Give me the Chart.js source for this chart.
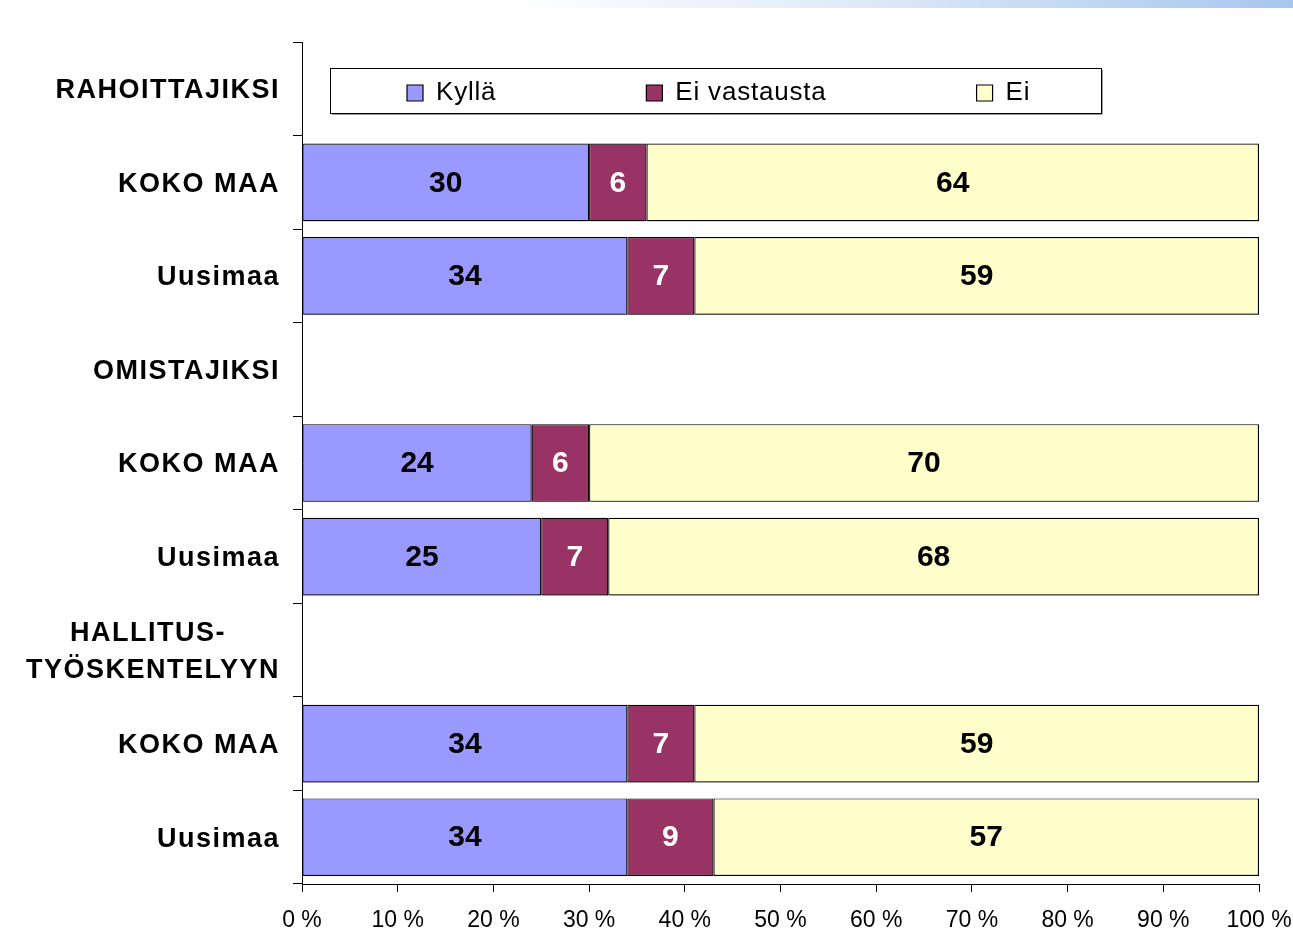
<!DOCTYPE html>
<html>
<head>
<meta charset="utf-8">
<script src="https://cdn.jsdelivr.net/npm/chart.js@4/dist/chart.umd.min.js"></script>
<style>
  html, body { margin: 0; padding: 0; background: #fff; }
  #wrap { position: relative; width: 1293px; height: 933px; }
  #strip { position: absolute; left: 500px; top: 0; width: 793px; height: 8px;
           background: linear-gradient(to right, rgba(255,255,255,1) 0%, #dfeaf8 45%, #a6c6ee 100%); }
  canvas { position: absolute; left: 0; top: 0; }
</style>
</head>
<body>
<div id="wrap">
  <div id="strip"></div>
  <canvas id="c" width="1293" height="933"></canvas>
</div>
<script>
// ---- data ----
const categories = [
  'RAHOITTAJIKSI', 'KOKO MAA', 'Uusimaa',
  'OMISTAJIKSI', 'KOKO MAA', 'Uusimaa',
  ['HALLITUS-\u00A0\u00A0\u00A0\u00A0\u00A0\u00A0', 'TYÖSKENTELYYN'], 'KOKO MAA', 'Uusimaa'
];
const seriesNames = ['Kyllä', 'Ei vastausta', 'Ei'];
const kylla       = [null, 30, 34, null, 24, 25, null, 34, 34];
const eiVastausta = [null, 6, 7, null, 6, 7, null, 7, 9];
const ei          = [null, 64, 59, null, 70, 68, null, 59, 57];
const xTicks = [0, 10, 20, 30, 40, 50, 60, 70, 80, 90, 100];

const FONT = '"Liberation Sans", Arial, sans-serif';

function spaced(obj, name, ls) {
  const orig = obj[name];
  obj[name] = function (...a) {
    const c = this.ctx;
    c.save();
    c.letterSpacing = ls;
    try { return orig.apply(this, a); } finally { c.restore(); }
  };
}

const helperPlugin = {
  id: 'helper',
  beforeLayout(chart) {
    const y = chart.scales.y;
    if (y && !y._lsPatched) { spaced(y, 'update', '1.5px'); spaced(y, 'drawLabels', '1.5px'); y._lsPatched = true; }
    const lg = chart.legend;
    if (lg && !lg._lsPatched) { spaced(lg, 'fit', '0.8px'); spaced(lg, 'draw', '0.8px'); lg._lsPatched = true; }
  },
  afterLayout(chart) {
    const lg = chart.legend;
    const pad = lg.options.labels.padding;
    lg.left = 407 - pad;
    lg.right = 1293;
    lg.top = 80 - pad;
    lg.bottom = 113;
    lg.width = lg.right - lg.left;
    lg.height = lg.bottom - lg.top;
  },
  beforeDatasetsDraw(chart) {
    const c = chart.ctx;
    c.save();
    c.shadowColor = 'rgba(0,0,0,0.35)';
    c.shadowOffsetX = 1.5;
    c.shadowOffsetY = 1.5;
    c.shadowBlur = 0;
  },
  afterDatasetsDraw(chart) {
    const c = chart.ctx;
    c.restore();
    c.save();
    c.font = 'bold 30px ' + FONT;
    c.textAlign = 'center';
    c.textBaseline = 'middle';
    chart.data.datasets.forEach((ds, di) => {
      const meta = chart.getDatasetMeta(di);
      meta.data.forEach((el, i) => {
        const v = ds.data[i];
        if (v === null || v === undefined) return;
        const p = el.getCenterPoint();
        c.fillStyle = ds.labelColor;
        c.fillText(String(v), p.x, p.y + 1);
      });
    });
    c.restore();
  },
  afterDraw(chart) {
    const c = chart.ctx;
    c.save();
    c.strokeStyle = '#9a9a9a';
    c.lineWidth = 1;
    c.beginPath();
    c.moveTo(1102.5, 70); c.lineTo(1102.5, 114.5); c.lineTo(332, 114.5);
    c.stroke();
    c.strokeStyle = '#000';
    c.strokeRect(330.5, 68.5, 771, 45);
    c.restore();
  }
};

new Chart(document.getElementById('c'), {
  type: 'bar',
  data: {
    labels: categories,
    datasets: [
      { label: seriesNames[0], data: kylla, backgroundColor: '#9999FF', borderColor: '#000', borderWidth: 1.2, labelColor: '#000' },
      { label: seriesNames[1], data: eiVastausta, backgroundColor: '#993366', borderColor: '#000', borderWidth: 1.2, labelColor: '#fff' },
      { label: seriesNames[2], data: ei, backgroundColor: '#FFFFCC', borderColor: '#000', borderWidth: 1.2, labelColor: '#000' }
    ]
  },
  options: {
    indexAxis: 'y',
    responsive: false,
    animation: false,
    devicePixelRatio: 1,
    layout: { padding: { top: 41, right: 34, bottom: 0, left: 0 } },
    datasets: { bar: { barPercentage: 0.83, categoryPercentage: 1.0, borderSkipped: false } },
    plugins: {
      legend: {
        display: true,
        position: 'top',
        align: 'start',
        maxHeight: 1,
        labels: {
          boxWidth: 16,
          boxHeight: 16,
          padding: 150,
          color: '#000',
          font: { family: FONT, size: 26, weight: 'normal' }
        }
      },
      tooltip: { enabled: false }
    },
    scales: {
      x: {
        stacked: true,
        min: 0,
        max: 100,
        afterBuildTicks(scale) { scale.ticks = xTicks.map(v => ({ value: v })); },
        afterFit(scale) { scale.height = 49; scale.paddingLeft = 0; scale.paddingRight = 0; },
        border: { display: true, color: '#000', width: 1 },
        grid: { display: true, drawOnChartArea: false, drawTicks: true, tickLength: 8, color: '#000' },
        ticks: {
          color: '#000',
          padding: 15,
          maxRotation: 0,
          autoSkip: false,
          font: { family: FONT, size: 23, weight: 'normal' },
          callback: (v) => v + ' %'
        }
      },
      y: {
        stacked: true,
        afterFit(scale) { scale.width = 302; },
        border: { display: true, color: '#000', width: 1 },
        grid: { display: true, drawOnChartArea: false, drawTicks: true, tickLength: 9, color: '#000', offset: true },
        ticks: {
          color: '#000',
          padding: 13,
          labelOffset: 2,
          autoSkip: false,
          font: { family: FONT, size: 27, weight: 'bold', lineHeight: 1.35 }
        }
      }
    }
  },
  plugins: [helperPlugin]
});
</script>
</body>
</html>
